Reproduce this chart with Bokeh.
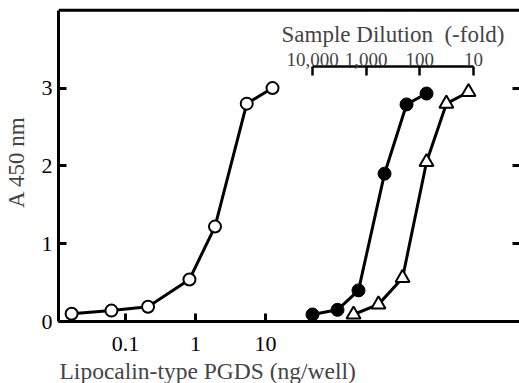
from bokeh.plotting import figure
from bokeh.models import (Range1d, LogScale, LogAxis, LinearAxis, FixedTicker,
                          NumeralTickFormatter, Title)
from bokeh.embed import file_html
from bokeh.resources import INLINE

# Standard: Lipocalin-type PGDS (ng/well) vs A450
std_ng = [0.017, 0.063, 0.21, 0.82, 1.9, 5.4, 12.6]
std_a = [0.10, 0.14, 0.19, 0.54, 1.22, 2.80, 3.00]

# Sample 1 (filled circles): dilution (-fold) vs A450
s1_dil = [10000, 3420, 1390, 455, 177, 75]
s1_a = [0.09, 0.15, 0.40, 1.90, 2.79, 2.93]

# Sample 2 (open triangles): dilution (-fold) vs A450
s2_dil = [1720, 590, 210, 75, 32, 12.4]
s2_a = [0.09, 0.22, 0.56, 2.05, 2.80, 2.95]

ng_ticks = [0.1, 1, 10]
ng_labels = ["0.1", "1", "10"]
dil_ticks = [10, 100, 1000, 10000]
y_ticks = [0, 1, 2, 3]
right_ticks = [1, 2, 3]

X_MIN, X_MAX = 10 ** -1.957, 10 ** 4.629
D_MIN, D_MAX = 10 ** 8.733, 10 ** 0.143
Y_MIN, Y_MAX = 0, 4.1
Y_BORDER = 4.0

FONT = "Liberation Serif"

p = figure(frame_width=461, frame_height=319, x_axis_type="log",
           x_range=Range1d(X_MIN, X_MAX), y_range=Range1d(Y_MIN, Y_MAX),
           output_backend="svg", toolbar_location=None,
           min_border_left=50, min_border_right=0, min_border_top=2,
           min_border_bottom=0)
p.outline_line_color = None
p.xgrid.visible = False
p.ygrid.visible = False

# left axis
ya = p.yaxis[0]
ya.ticker = FixedTicker(ticks=y_ticks)
ya.bounds = (Y_MIN, Y_BORDER)
ya.major_tick_in = 8
ya.major_tick_out = 0
ya.minor_tick_in = 0
ya.minor_tick_out = 0
ya.axis_line_width = 3
ya.major_tick_line_width = 3
ya.major_label_standoff = 6
ya.major_label_text_font = FONT
ya.major_label_text_font_size = "22px"
ya.major_label_text_color = "black"
ya.axis_label = "A 450 nm"
ya.axis_label_text_font = FONT
ya.axis_label_text_font_size = "23px"
ya.axis_label_text_font_style = "normal"
ya.axis_label_standoff = 10

# bottom axis
xa = p.xaxis[0]
xa.ticker = FixedTicker(ticks=ng_ticks)
xa.major_label_overrides = dict(zip(ng_ticks, ng_labels))
xa.major_tick_in = 8
xa.major_tick_out = 0
xa.minor_tick_in = 0
xa.minor_tick_out = 0
xa.axis_line_width = 3
xa.major_tick_line_width = 3
xa.major_label_standoff = 15
xa.major_label_text_font = FONT
xa.major_label_text_font_size = "22px"
xa.major_label_text_color = "black"

p.add_layout(Title(text="Lipocalin-type PGDS (ng/well)", align="left", offset=1,
                   text_font=FONT, text_font_size="23.5px", text_font_style="normal",
                   standoff=4), "below")

# top border of the plot frame
p.line(x=[X_MIN, X_MAX], y=[Y_BORDER, Y_BORDER], line_width=3, line_color="black")

# right-side ticks (no line)
right = LinearAxis(ticker=FixedTicker(ticks=right_ticks), axis_line_color=None,
                   fixed_location=X_MAX,
                   major_tick_in=7, major_tick_out=0, minor_tick_in=0, minor_tick_out=0,
                   major_tick_line_width=3, major_label_standoff=0,
                   major_label_overrides={t: "" for t in right_ticks})
p.add_layout(right, "right")

# inset dilution axis
p.extra_x_ranges = {"dil": Range1d(D_MIN, D_MAX)}
p.extra_x_scales = {"dil": LogScale()}
dax = LogAxis(x_range_name="dil", ticker=FixedTicker(ticks=dil_ticks),
              formatter=NumeralTickFormatter(format="0,0"),
              bounds=(10, 10000), fixed_location=3.28,
              major_tick_in=9, major_tick_out=0, minor_tick_in=0, minor_tick_out=0,
              axis_line_width=2.5, major_tick_line_width=2.5,
              major_label_standoff=0,
              major_label_text_font=FONT, major_label_text_font_size="19px",
              axis_label="Sample Dilution \u00a0(-fold)",
              axis_label_text_font=FONT, axis_label_text_font_size="23px",
              axis_label_text_font_style="normal", axis_label_standoff=4)
p.add_layout(dax, "above")

# standard curve
p.line(std_ng, std_a, line_width=3, color="black")
p.scatter(std_ng, std_a, marker="circle", size=12, fill_color="white",
          line_color="black", line_width=2)

# sample 1
p.line(s1_dil, s1_a, line_width=3, color="black", x_range_name="dil")
p.scatter(s1_dil, s1_a, marker="circle", size=13, fill_color="black",
          line_color="black", x_range_name="dil")

# sample 2
p.line(s2_dil, s2_a, line_width=3, color="black", x_range_name="dil")
p.scatter(s2_dil, s2_a, marker="triangle", size=14, fill_color="white",
          line_color="black", line_width=2, x_range_name="dil")

open("out.html", "w").write(file_html(p, INLINE))
